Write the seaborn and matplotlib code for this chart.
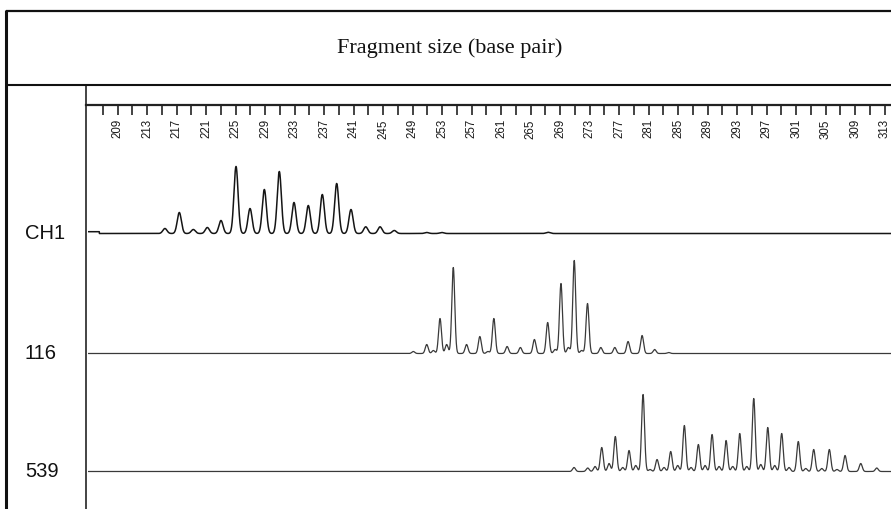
import numpy as np
import pandas as pd
import matplotlib
matplotlib.use("Agg")
import matplotlib.pyplot as plt
import seaborn as sns

# ---------------- data ----------------
title = "Fragment size (base pair)"
trace_names = ["CH1", "116", "539"]

tick_major = list(range(209, 314, 4))          # labelled ruler ticks
tick_minor = list(range(207, 314, 4))          # unlabelled ruler ticks
size_min, size_max = 204.7, 313.85

ch1_sizes = [215.4, 217.35, 219.25, 221.15, 223.0, 225.04, 226.94, 228.88,
             230.91, 232.9, 234.84, 236.74, 238.69, 240.63, 242.63, 244.57,
             246.5, 250.9, 252.93, 267.35]
ch1_heights = [5, 21, 4, 6, 13, 67, 25, 44, 62, 31, 28, 39, 50, 24, 6.7, 6.7,
               3, 1, 1, 1.2]

s116_sizes = [249.08, 250.9, 251.8, 252.7, 253.6, 254.5, 256.3, 258.1, 259.2,
              260.0, 261.8, 263.6, 265.5, 267.3, 268.3, 269.1, 270.1, 270.9,
              271.9, 272.7, 274.5, 276.4, 278.2, 280.1, 281.8, 283.7]
s116_heights = [2, 9, 3, 35, 9, 86, 9, 17, 2, 35, 7, 6, 14, 31, 4, 70, 6, 93,
                3, 50, 6, 6, 12, 18, 4, 1]

s539_sizes = [270.87, 272.73, 273.72, 274.63, 275.62, 276.47, 277.47, 278.33,
              279.24, 280.23, 281.18, 282.13, 283.08, 283.98, 284.93, 285.83,
              286.74, 287.73, 288.64, 289.59, 290.54, 291.49, 292.39, 293.34,
              294.29, 295.24, 296.19, 297.14, 298.08, 299.03, 300.02, 301.28,
              302.29, 303.37, 304.46, 305.49, 306.53, 307.62, 309.75, 311.92]
s539_heights = [4, 3.5, 5, 24, 8, 35, 4, 21, 6, 77, 2, 12, 4, 20, 6, 46, 4, 27,
                6, 37, 5, 31, 5, 38, 5, 73, 7, 44, 6, 38, 4, 30, 3, 22, 3, 22,
                2, 16, 8, 3.5]

# small raised start of the CH1 trace (size range, level)
ch1_start_range = [205.0, 206.5]
ch1_start_level = 1.8

peak_sigma = {"CH1": 0.28, "116": 0.2, "539": 0.2}

# ---------------- build traces ----------------
grid = np.arange(205.0, size_max, 0.01)


def trace(sizes, heights, sigma):
    y = np.zeros_like(grid)
    for s, h in zip(sizes, heights):
        y += h * np.exp(-0.5 * ((grid - s) / sigma) ** 2)
    return y


y_ch1 = trace(ch1_sizes, ch1_heights, peak_sigma["CH1"])
y_ch1 = y_ch1 + np.where((grid >= ch1_start_range[0]) & (grid <= ch1_start_range[1]),
                         ch1_start_level, 0.0)
y_116 = trace(s116_sizes, s116_heights, peak_sigma["116"])
y_539 = trace(s539_sizes, s539_heights, peak_sigma["539"])

df = pd.concat([
    pd.DataFrame({"size": grid, "signal": y_ch1, "trace": "CH1"}),
    pd.DataFrame({"size": grid, "signal": y_116, "trace": "116"}),
    pd.DataFrame({"size": grid, "signal": y_539, "trace": "539"}),
])

# ---------------- figure ----------------
sns.set_theme(style="white")
plt.rcParams["font.family"] = ["Liberation Sans", "DejaVu Sans"]

W, H = 891, 510
fig = plt.figure(figsize=(W / 100, H / 100), dpi=100)
fig.patch.set_facecolor("white")


def fax(x0, y0, x1, y1):
    """axes rectangle from pixel box (top-left origin)"""
    return fig.add_axes([x0 / W, 1 - y1 / H, (x1 - x0) / W, (y1 - y0) / H])


# frame / table lines
bg = fax(0, 0, W, H)
bg.set_xlim(0, W)
bg.set_ylim(H, 0)
bg.axis("off")
bg.patch.set_alpha(0)
col = "#111111"
bg.plot([6, W], [12, 12], color=col, lw=1.6, solid_capstyle="butt")
bg.plot([6, 6], [11, H], color=col, lw=2.2, solid_capstyle="butt")
bg.plot([6, W], [86, 86], color=col, lw=1.5, solid_capstyle="butt")
bg.plot([86, 86], [86, H], color=col, lw=1.1, solid_capstyle="butt")

bg.text(450, 48, title, ha="center", va="center", fontsize=16,
        family=["Liberation Serif", "DejaVu Serif"], color="#111111")

# ruler
rul = fax(86, 60, W, 106)
rul.set_xlim(size_min, size_max)
rul.patch.set_alpha(0)
for sp in ["top", "left", "right"]:
    rul.spines[sp].set_visible(False)
rul.spines["bottom"].set_linewidth(1.6)
rul.spines["bottom"].set_color("#222222")
rul.set_yticks([])
rul.set_xticks(tick_major)
rul.set_xticklabels([str(t) for t in tick_major], rotation=90, fontsize=8.3,
                    color="#1a1a1a")
rul.set_xticks(tick_minor, minor=True)
rul.tick_params(axis="x", which="both", direction="out", length=7.5,
                width=1.2, color="#222222", bottom=True, pad=2)

# traces
rows = {"CH1": (140, 240, 234.5), "116": (244, 360, 354.5), "539": (364, 480, 472.5)}
colors = {"CH1": "#151515", "116": "#3a3a3a", "539": "#3a3a3a"}
widths = {"CH1": 1.1, "116": 0.9, "539": 0.9}
for name in trace_names:
    top, bot, base = rows[name]
    ax = fax(88, top, W, bot)
    sub = df[df["trace"] == name]
    sns.lineplot(data=sub, x="size", y="signal", ax=ax, color=colors[name],
                 lw=widths[name], estimator=None, sort=False)
    ax.set_xlim(size_min + (88 - 86) / 7.375, size_max)
    ax.set_ylim(-(bot - base), base - top)
    ax.axis("off")
    ax.patch.set_alpha(0)
    bg.text(25, base - 1, name, ha="left", va="center", fontsize=14.5,
            color="#111111")

fig.savefig("out.png", dpi=100)
